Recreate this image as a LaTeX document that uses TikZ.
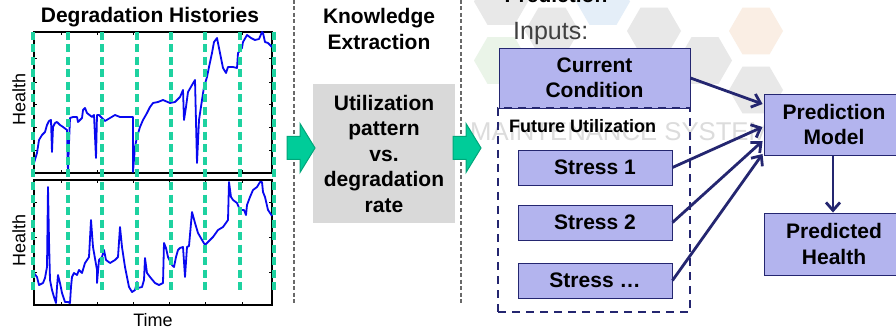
\documentclass[tikz,border=0pt]{standalone}
\usepackage{fontspec}
\setmainfont{Liberation Sans}
\usetikzlibrary{arrows.meta,calc}

\definecolor{navy}{RGB}{36,38,112}
\definecolor{lav}{RGB}{179,180,238}
\definecolor{cutgreen}{RGB}{30,210,160}
\definecolor{arrowgreen}{RGB}{0,204,153}
\definecolor{arrowedge}{RGB}{0,166,122}
\definecolor{boxgray}{RGB}{217,217,217}
\definecolor{divgray}{RGB}{105,105,105}
\definecolor{inputgray}{RGB}{64,64,64}
\definecolor{curveblue}{RGB}{8,8,240}
\definecolor{hexgray}{RGB}{232,232,232}
\definecolor{hexblue}{RGB}{228,238,248}
\definecolor{hexorange}{RGB}{250,238,228}
\definecolor{hexgreen}{RGB}{234,244,232}
\definecolor{markgray}{RGB}{220,220,220}

\tikzset{
  bf/.style={font=\fontsize{21}{25.5}\selectfont\bfseries, align=center},
  lavbox/.style={draw=navy, line width=0.9pt, fill=lav, inner sep=0pt, bf},
  groupbox/.style={draw=navy, line width=2.8pt, dash pattern=on 8pt off 6pt, inner sep=0pt},
  flow/.style={draw=navy, line width=2.8pt, -{Straight Barb[length=8pt,width=14pt,line width=2.8pt]}},
  divider/.style={draw=divgray, line width=1.1pt, dash pattern=on 4pt off 2.5pt},
  cutline/.style={draw=cutgreen, line width=3.3pt, dash pattern=on 8pt off 4.5pt},
  axisframe/.style={draw=black, line width=1.3pt},
  history/.style={draw=curveblue, line width=1.8pt, line join=round},
  axlabel/.style={font=\fontsize{18}{20}\selectfont},
  pics/blockarrow/.style={code={
    \filldraw[fill=arrowgreen, draw=arrowedge, line width=1pt]
      (0,-11.5) -- (13,-11.5) -- (13,-24.5) -- (28,0) -- (13,24.5) -- (13,11.5) -- (0,11.5) -- cycle;}}
}

\begin{document}
\begin{tikzpicture}[x=1pt, y=-1pt]
  \useasboundingbox (0,0) rectangle (896,331);
  \clip (0,0) rectangle (896,331);
  \fill[white] (0,0) rectangle (896,331);

  % ---------- faint honeycomb backdrop ----------
  \foreach \hx/\hy/\hc in {501/1.5/hexgray, 501/60.5/hexgreen, 552/31/hexgray,
      603/1.5/hexblue, 654/31/hexgray, 705/60.5/hexgray, 756/31/hexorange,
      756/90/hexgray} {
    \fill[\hc] (\hx,\hy) +(0:27) -- +(60:27) -- +(120:27) -- +(180:27)
      -- +(240:27) -- +(300:27) -- cycle;
  }
  \node[font=\fontsize{25.7}{28}\selectfont, text=markgray, anchor=base west, inner sep=0pt]
    (mark) at (470,141) {MAINTENANCE SYSTEMS};

  % ---------- column 1: degradation histories ----------
  \node[bf] (histtitle) at (150,17) {Degradation Histories};

  % axes frames
  \draw[axisframe, fill=white] (34,32) rectangle (272,173);
  \draw[axisframe, fill=white] (34,180) rectangle (272,305);
  % y ticks
  \foreach \ty in {58,82,104,127,150,202,237,272} {
    \draw[line width=0.8pt] (34,\ty) -- ++(3,0);
    \draw[line width=0.8pt] (272,\ty) -- ++(-3,0);
  }
  % x ticks
  \foreach \tx in {61,97,133,169,205,242} {
    \draw[line width=0.8pt] (\tx,305) -- ++(0,-3);
    \draw[line width=0.8pt] (\tx,173) -- ++(0,-3);
    \draw[line width=0.8pt] (\tx,32) -- ++(0,3);
    \draw[line width=0.8pt] (\tx,180) -- ++(0,3);
  }

  % upper history
  \draw[history] plot coordinates {
    (34,163) (37,153) (39,140) (42,135) (45,132) (47,125) (49,121) (51,120)
    (52,152) (53,127) (55,123) (57,122) (60,125) (63,127) (67,130) (68,172)
    (69,143) (70,118) (73,117) (77,117) (78,122) (82,118) (83,110) (85,108)
    (87,113) (92,117) (94,115) (96,158) (97,115) (99,115) (102,118) (105,121)
    (110,118) (115,115) (120,117) (127,117) (133,117) (133,172) (135,147)
    (137,137) (140,127) (143,120) (147,113) (150,107) (153,103) (158,102)
    (163,100) (170,103) (175,102) (180,97) (183,90) (184,120) (186,107)
    (188,92) (192,85) (195,80) (197,163) (199,120) (202,100) (204,87)
    (207,77) (209,67) (212,53) (214,42) (217,38) (218,43) (221,58) (223,68)
    (226,73) (228,67) (233,67) (237,68) (238,53) (242,48) (243,42) (247,35)
    (251,38) (255,40) (259,39) (262,32) (263,33) (265,42) (268,43) (272,47)};

  % lower history
  \draw[history] plot coordinates {
    (34,273) (37,277) (39,285) (43,283) (45,278) (47,267) (48,187) (49,240)
    (50,280) (52,290) (54,297) (56,303) (57,287) (58,275) (60,283) (62,293)
    (65,302) (68,302) (70,303) (71,287) (72,277) (74,273) (77,275) (79,270)
    (82,273) (85,263) (87,260) (89,257) (91,220) (93,247) (97,270) (97,283)
    (99,260) (102,257) (104,250) (106,260) (110,263) (115,260) (118,257)
    (120,227) (122,247) (125,267) (129,287) (132,292) (135,290) (137,282)
    (138,288) (142,287) (144,280) (145,258) (147,273) (150,277) (155,283)
    (159,285) (163,283) (164,243) (166,248) (168,257) (172,265) (174,267)
    (176,257) (178,250) (180,248) (183,247) (185,277) (187,247) (189,246)
    (192,212) (195,223) (198,233) (202,240) (205,245) (208,242) (213,237)
    (218,230) (223,227) (228,220) (229,182) (231,197) (233,200) (237,203)
    (240,210) (244,210) (246,215) (247,205) (250,197) (253,190) (257,187)
    (260,182) (262,182) (263,192) (265,197) (268,210) (272,216)};

  % dashed cut lines across both histories
  \foreach \cx in {33,68,102,137,171,205,240,274} {
    \draw[cutline] (\cx,32) -- (\cx,293);
  }

  \node[axlabel, rotate=90] (health1) at (19,99) {Health};
  \node[axlabel, rotate=90] (health2) at (19,240) {Health};
  \node[axlabel] (timelabel) at (153,320) {Time};

  % ---------- column dividers ----------
  \coordinate (divAtop) at (294,0);
  \coordinate (divAbot) at (294,303);
  \coordinate (divBtop) at (461,0);
  \coordinate (divBbot) at (461,303);
  \draw[divider] (divAtop) -- (divAbot);
  \draw[divider] (divBtop) -- (divBbot);

  % ---------- column 2: knowledge extraction ----------
  \node[bf] (ketitle) at (379,29) {Knowledge\\Extraction};
  \node[bf, fill=boxgray, minimum width=142pt, minimum height=139pt, inner sep=0pt]
    (pattern) at (384,153.5) {Utilization\\pattern\\vs.\\degradation\\rate};

  \pic at (287,148) {blockarrow};
  \pic at (453,148) {blockarrow};

  % ---------- column 3: prediction ----------
  \node[bf, anchor=base] (predtitle) at (556,3) {Prediction};
  \node[font=\fontsize{25}{28}\selectfont, text=inputgray, anchor=base west, inner sep=0pt]
    (inputs) at (513,40) {Inputs:};

  \node[lavbox, minimum width=191pt, minimum height=60pt] (cc) at (594.5,78) {Current\\Condition};
  \node[groupbox, minimum width=192pt, minimum height=204pt] (future) at (594,210) {};
  \node[font=\fontsize{18}{20}\selectfont\bfseries, anchor=west, inner sep=0pt]
    (futurelabel) at (509,126) {Future Utilization};

  \node[lavbox, minimum width=154pt, minimum height=35pt] (s1) at (595,167.5) {Stress 1};
  \node[lavbox, minimum width=154pt, minimum height=35pt] (s2) at (595,222.5) {Stress 2};
  \node[lavbox, minimum width=154pt, minimum height=35pt] (s3) at (595,280.5) {Stress …};

  \node[lavbox, minimum width=140pt, minimum height=61pt] (pm) at (834,124.5) {Prediction\\Model};
  \node[lavbox, minimum width=140pt, minimum height=62pt] (ph) at (834,244) {Predicted\\Health};

  \draw[flow] (cc.east) -- ($(pm.west)+(-1,-20.5)$);
  \draw[flow] (s1.east) -- ($(pm.west)+(-1,2.5)$);
  \draw[flow] (s2.east) -- ($(pm.west)+(-1,16.5)$);
  \draw[flow] (s3.east) -- ($(pm.west)+(-1,29.5)$);
  \draw[flow] ($(pm.south)+(-1,0)$) -- ($(ph.north)+(-1,0)$);
\end{tikzpicture}
\end{document}
